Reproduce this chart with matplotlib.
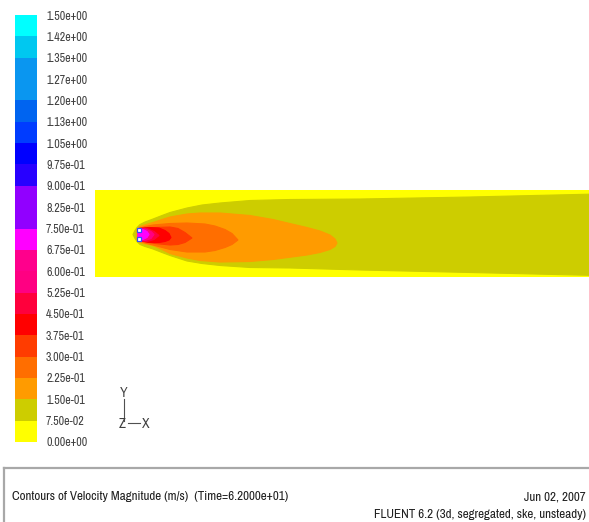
import matplotlib.pyplot as plt
import matplotlib as mpl
from matplotlib.colors import ListedColormap, BoundaryNorm

plt.rcParams['font.family'] = ['Archivo Narrow', 'DejaVu Sans']

# colour scale of the velocity magnitude (m/s)
levels = [0.0, 0.075, 0.15, 0.225, 0.3, 0.375, 0.45, 0.525, 0.6, 0.675, 0.75,
          0.825, 0.9, 0.975, 1.05, 1.125, 1.2, 1.275, 1.35, 1.425, 1.5]
level_labels = ['0.00e+00', '7.50e-02', '1.50e-01', '2.25e-01', '3.00e-01',
                '3.75e-01', '4.50e-01', '5.25e-01', '6.00e-01', '6.75e-01',
                '7.50e-01', '8.25e-01', '9.00e-01', '9.75e-01', '1.05e+00',
                '1.13e+00', '1.20e+00', '1.27e+00', '1.35e+00', '1.42e+00',
                '1.50e+00']
band_colors = ['#ffff00', '#cdcd00', '#ff9b00', '#ff6e00', '#ff3c00',
               '#ff0000', '#ff003c', '#ff0082', '#ff008c', '#ff00ff',
               '#9100ff', '#9100ff', '#2800ff', '#0000ff', '#003cff',
               '#0064f0', '#0a96f0', '#0a96f0', '#00c8f0', '#00ffff']

# contour bands of the jet
# (x along the pipe from the inlet, upper / lower edge of each band)
band_value = [0.075, 0.15, 0.225, 0.30, 0.375, 0.45, 0.525, 0.675]
band_x = [
    [-4, -2, 0, 3, 8, 16, 25, 33, 50, 65, 83, 113, 153, 223, 333, 460],
    [0, 3, 9, 16, 25, 33, 50, 63, 83, 113, 136, 155, 170, 183, 193, 198, 200],
    [2, 8, 16, 33, 50, 68, 78, 88, 95, 101],
    [2, 10, 18, 33, 41, 48, 55],
    [2, 12, 22, 28, 32, 34],
    [2, 10, 17, 22],
    [1, 8, 14, 17],
    [1, 6, 10, 12],
]
band_upper = [
    [0, 4, 7, 10, 12.5, 15.5, 19, 22, 26.5, 29.5, 31.5, 34, 35, 35.5, 37.5, 40.5],
    [5, 8, 10, 12, 15, 17.5, 20.5, 21.5, 21.5, 19, 15, 10.5, 7, 3.5, -0.5, -4.5, -8.5],
    [6, 8, 9.5, 11, 11.5, 10.5, 8.5, 5, 1, -5.5],
    [6, 6.5, 7, 7.5, 6, 2, -3.5],
    [6, 7, 6.5, 4, 1, -3],
    [6, 6, 3, -1],
    [5.5, 5.5, 3, 0],
    [5, 5, 3, 0],
]
band_lower = [
    [0, -4, -7, -10, -12, -14.5, -18, -21, -26.5, -29, -31, -33, -33.5, -35.5, -38, -41],
    [-5, -8, -9.5, -11, -15, -19, -23.5, -26, -27.5, -27, -25, -22.5, -20.5, -18, -15, -12, -8.5],
    [-6, -8.5, -10.5, -15, -17.5, -17.5, -16, -13, -10, -5.5],
    [-6, -7.5, -9, -10.5, -10, -8, -3.5],
    [-6, -8, -8, -7, -5.5, -3],
    [-6, -7, -5, -1],
    [-5.5, -6, -4, 0],
    [-5, -5, -3, 0],
]
inlet_x = [1.5, 1.5]
inlet_y = [4.5, -4.5]

W, H = 589, 522
fig = plt.figure(figsize=(W / 100, H / 100), dpi=100)
fig.patch.set_facecolor('white')

# page overlay in pixel units (frame, triad, captions)
ax0 = fig.add_axes([0, 0, 1, 1])
ax0.set_xlim(0, W)
ax0.set_ylim(H, 0)
ax0.axis('off')
ax0.plot([4, W + 5], [468, 468], color='#a8a8a8', lw=1.6)
ax0.plot([4, 4], [468, H + 5], color='#a8a8a8', lw=1.6)
ax0.plot([124, 124], [399, 421], color='#505050', lw=0.8)
ax0.plot([128, 140], [423, 423], color='#505050', lw=0.8)
ax0.text(124, 393, 'Y', ha='center', va='center', fontsize=10, color='#404040')
ax0.text(122, 424, 'Z', ha='center', va='center', fontsize=10, color='#404040')
ax0.text(146, 424, 'X', ha='center', va='center', fontsize=10, color='#404040')
ax0.text(12, 497, 'Contours of Velocity Magnitude (m/s)  (Time=6.2000e+01)',
         ha='left', va='center', fontsize=9.4, color='#202020')
ax0.text(586, 497, 'Jun 02, 2007', ha='right', va='center', fontsize=9.4,
         color='#202020')
ax0.text(586, 514, 'FLUENT 6.2 (3d, segregated, ske, unsteady)', ha='right',
         va='center', fontsize=9.4, color='#202020')

# colour bar
cmap = ListedColormap(band_colors)
norm = BoundaryNorm(levels, cmap.N)
cax = fig.add_axes([15 / W, 80 / H, 22 / W, 427 / H])
cb = fig.colorbar(mpl.cm.ScalarMappable(norm=norm, cmap=cmap), cax=cax,
                  ticks=levels)
cb.set_ticklabels(level_labels)
cb.outline.set_visible(False)
cax.tick_params(length=0, pad=6.5, labelsize=8.6, labelcolor='#404040')

# pipe section with the jet
ax = fig.add_axes([95 / W, 245 / H, 494 / W, 87 / H])
ax.set_facecolor(band_colors[0])
for value, xs, up, lo in zip(band_value, band_x, band_upper, band_lower):
    c = cmap(norm(value))
    ax.fill(xs + xs[::-1], up + lo[::-1], facecolor=c, edgecolor=c, lw=0.8)
ax.plot(inlet_x, inlet_y, 's', ms=3.5, mfc='white', mec='#3050ff', mew=0.9)
ax.set_xlim(-42, 452)
ax.set_ylim(-42.5, 44.5)
ax.set_xticks([])
ax.set_yticks([])
for s in ax.spines.values():
    s.set_visible(False)

fig.savefig('out.png', dpi=100)
